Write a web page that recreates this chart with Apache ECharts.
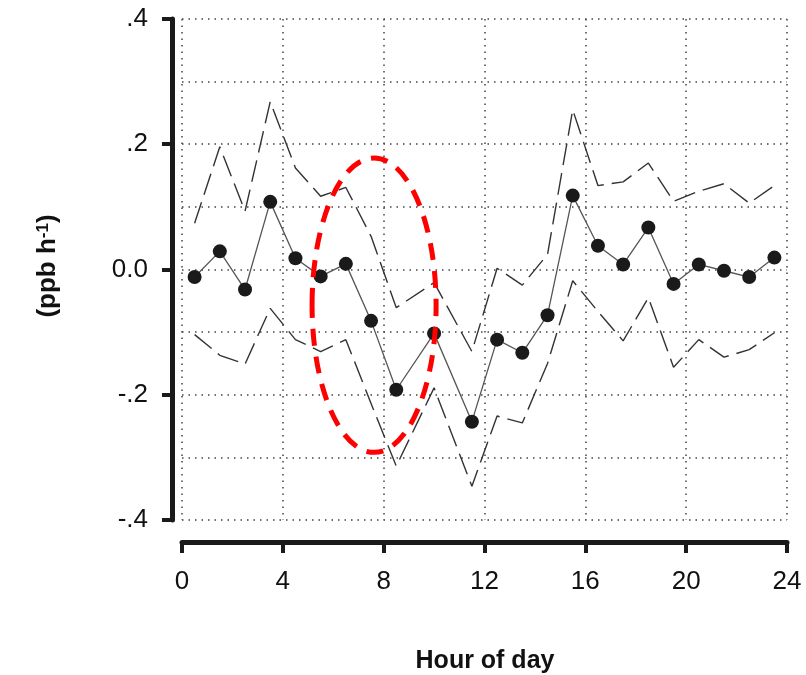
<!DOCTYPE html>
<html>
<head>
<meta charset="utf-8">
<script src="https://cdn.jsdelivr.net/npm/echarts@6/dist/echarts.min.js"></script>
<style>html,body{margin:0;padding:0;background:#fff}#c{width:806px;height:675px}</style>
</head>
<body>
<div id="c"></div>
<script>
// Hour of day (bin centres)
const hours = [0.5, 1.5, 2.5, 3.5, 4.5, 5.5, 6.5, 7.5, 8.5, 10, 11.5, 12.5, 13.5, 14.5, 15.5, 16.5, 17.5, 18.5, 19.5, 20.5, 21.5, 22.5, 23.5];
// Mean rate (ppb h-1)
const meanVals = [-0.012, 0.029, -0.032, 0.108, 0.018, -0.011, 0.009, -0.082, -0.192, -0.102, -0.243, -0.112, -0.133, -0.073, 0.118, 0.038, 0.008, 0.067, -0.023, 0.008, -0.002, -0.012, 0.019];
// Upper bound
const upperVals = [0.074, 0.196, 0.093, 0.268, 0.162, 0.117, 0.131, 0.053, -0.061, -0.021, -0.131, 0.002, -0.025, 0.024, 0.255, 0.134, 0.14, 0.17, 0.109, 0.125, 0.137, 0.106, 0.134];
// Lower bound
const lowerVals = [-0.104, -0.137, -0.151, -0.062, -0.112, -0.131, -0.112, -0.214, -0.314, -0.189, -0.346, -0.234, -0.245, -0.15, -0.018, -0.067, -0.114, -0.045, -0.156, -0.112, -0.14, -0.128, -0.101];
// Tick labels
const xTicks = [0, 4, 8, 12, 16, 20, 24];
const yTickLabels = {'0.4': '.4', '0.2': '.2', '0': '0.0', '-0.2': '-.2', '-0.4': '-.4'};
// Highlight annotation (data coords)
const ellipseCenter = [7.62, -0.057];
const ellipseRadius = [2.46, 0.235];

const pairs = (ys) => hours.map((h, i) => [h, ys[i]]);
const FONT = '"Liberation Sans", Arial, sans-serif';
const dotted = {color: '#444', width: 1.5, type: [1.5, 5]};

const chart = echarts.init(document.getElementById('c'), null, {renderer: 'canvas'});
chart.setOption({
  animation: false,
  backgroundColor: '#fff',
  grid: {left: 182, right: 19, top: 19, bottom: 155, containLabel: false},
  xAxis: {
    type: 'value', min: xTicks[0], max: xTicks[xTicks.length - 1], interval: 4,
    position: 'bottom', offset: 22,
    axisLine: {show: true, onZero: false, lineStyle: {color: '#1a1a1a', width: 5}},
    axisTick: {show: true, length: 11, lineStyle: {color: '#1a1a1a', width: 4}},
    axisLabel: {show: true, margin: 27, fontSize: 26, color: '#111', fontFamily: FONT},
    splitLine: {show: true, lineStyle: dotted}
  },
  yAxis: [
    {
      type: 'value', min: -0.4, max: 0.4, interval: 0.1,
      axisLine: {show: false}, axisTick: {show: false}, axisLabel: {show: false},
      splitLine: {show: true, lineStyle: dotted}
    },
    {
      type: 'value', min: -0.4, max: 0.4, interval: 0.2, position: 'left', offset: 10,
      axisLine: {show: true, onZero: false, lineStyle: {color: '#1a1a1a', width: 5}},
      axisTick: {show: true, length: 10, lineStyle: {color: '#1a1a1a', width: 4}},
      axisLabel: {
        show: true, margin: 24, fontSize: 26, color: '#111', fontFamily: FONT,
        formatter: (v) => yTickLabels[String(Math.round(v * 10) / 10)] || ''
      },
      splitLine: {show: false}
    }
  ],
  series: [
    {
      type: 'line', name: 'upper', data: pairs(upperVals), yAxisIndex: 0,
      symbol: 'none', lineStyle: {color: '#333', width: 1.4, type: [22, 8]}, z: 3
    },
    {
      type: 'line', name: 'lower', data: pairs(lowerVals), yAxisIndex: 0,
      symbol: 'none', lineStyle: {color: '#333', width: 1.4, type: [22, 8]}, z: 3
    },
    {
      type: 'line', name: 'mean', data: pairs(meanVals), yAxisIndex: 0,
      symbol: 'circle', symbolSize: 14,
      itemStyle: {color: '#1a1a1a', borderWidth: 0},
      lineStyle: {color: '#555', width: 1.3}, z: 4
    }
  ]
});

const c = chart.convertToPixel({xAxisIndex: 0, yAxisIndex: 0}, ellipseCenter);
const e = chart.convertToPixel({xAxisIndex: 0, yAxisIndex: 0}, [ellipseCenter[0] + ellipseRadius[0], ellipseCenter[1] + ellipseRadius[1]]);
chart.setOption({
  graphic: [
    {
      type: 'ellipse', shape: {cx: c[0], cy: c[1], rx: Math.abs(e[0] - c[0]), ry: Math.abs(e[1] - c[1])},
      style: {fill: 'none', stroke: '#ff0000', lineWidth: 5, lineDash: [17, 11]}, z: 10
    },
    {
      type: 'text', x: 48, y: 266, rotation: Math.PI / 2,
      style: {
        text: '(ppb h{sup|-1})', fill: '#111',
        font: 'bold 26px "Liberation Sans", Arial, sans-serif',
        rich: {sup: {fontSize: 17, fontWeight: 'bold', verticalAlign: 'top', padding: [0, 0, 10, 0], fontFamily: FONT}},
        align: 'center', verticalAlign: 'middle'
      }
    },
    {
      type: 'text', x: 485, y: 661,
      style: {
        text: 'Hour of day', fill: '#111',
        font: 'bold 25px "Liberation Sans", Arial, sans-serif',
        align: 'center', verticalAlign: 'middle'
      }
    }
  ]
});
</script>
</body>
</html>
